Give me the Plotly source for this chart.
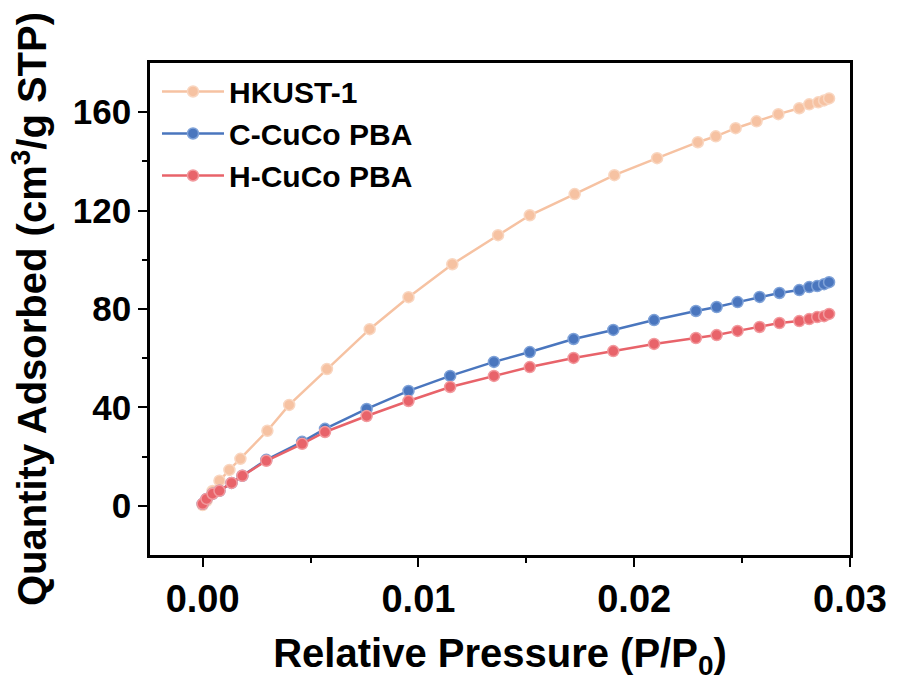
import plotly.graph_objects as go

# Relative pressure (P/P0) sampling for the two PBA samples
x_pba = [0.0000, 0.00018, 0.00046, 0.00078, 0.00134, 0.00184, 0.00295, 0.00461,
         0.00567, 0.00760, 0.00954, 0.01147, 0.01350, 0.01516, 0.01719, 0.01903,
         0.02092, 0.02286, 0.02382, 0.02479, 0.02581, 0.02673, 0.02765, 0.02811,
         0.02848, 0.02880, 0.02903]
c_cuco = [0.8, 2.8, 4.9, 6.1, 9.3, 12.2, 18.7, 26.0, 31.3, 39.4, 46.7, 52.8, 58.5,
          62.5, 67.8, 71.5, 75.5, 79.2, 80.8, 82.8, 84.9, 86.5, 87.7, 88.9, 89.3,
          90.1, 90.9]
h_cuco = [0.8, 2.8, 4.9, 6.1, 9.3, 12.2, 18.3, 25.2, 30.0, 36.5, 42.6, 48.3, 52.8,
          56.4, 60.1, 62.9, 65.8, 68.2, 69.4, 71.1, 72.7, 74.3, 75.1, 75.9, 76.7,
          77.1, 78.0]

x_hk = [0.0000, 0.00018, 0.00046, 0.00078, 0.00124, 0.00175, 0.00300, 0.00401,
        0.00576, 0.00774, 0.00954, 0.01157, 0.01369, 0.01516, 0.01724, 0.01908,
        0.02106, 0.02295, 0.02378, 0.02470, 0.02567, 0.02668, 0.02765, 0.02811,
        0.02853, 0.02880, 0.02903]
hkust = [0.3, 2.0, 6.0, 10.2, 14.6, 19.1, 30.5, 41.0, 55.6, 71.8, 84.8, 98.2,
         110.0, 118.1, 126.7, 134.4, 141.3, 147.8, 150.2, 153.5, 156.3, 159.2,
         161.6, 163.2, 164.0, 164.8, 165.6]

x_ticks = [0.0, 0.01, 0.02, 0.03]
x_ticktext = ["0.00", "0.01", "0.02", "0.03"]
y_ticks = [0, 40, 80, 120, 160]

series = [
    ("HKUST-1", x_hk, hkust, "#F6C2A2", "#F9D6C0"),
    ("C-CuCo PBA", x_pba, c_cuco, "#4A76BE", "#7FA2D8"),
    ("H-CuCo PBA", x_pba, h_cuco, "#E8636A", "#F29A9E"),
]

fig = go.Figure()
for name, xs, ys, col, edge in series:
    fig.add_trace(go.Scatter(
        x=xs, y=ys, name=name, mode="lines+markers",
        line=dict(color=col, width=2.5),
        marker=dict(symbol="circle", size=11, color=col,
                    line=dict(color=edge, width=1.5)),
    ))

font_family = "Liberation Sans, Arial, sans-serif"

fig.update_layout(
    width=899, height=682,
    margin=dict(l=150, r=44, t=63, b=127),
    paper_bgcolor="white", plot_bgcolor="white",
    font=dict(family=font_family, color="black"),
    showlegend=True,
    legend=dict(x=0.01, y=0.995, xanchor="left", yanchor="top",
                bgcolor="rgba(0,0,0,0)", borderwidth=0,
                font=dict(size=30, weight="bold", family=font_family),
                itemwidth=62, tracegroupgap=0),
)

fig.update_xaxes(
    range=[-0.00244, 0.0300],
    tickvals=x_ticks, ticktext=x_ticktext,
    ticks="outside", ticklen=9, tickwidth=2, tickcolor="black",
    minor=dict(ticks="outside", ticklen=5, tickwidth=2, tickcolor="black",
               tickvals=[0.005, 0.015, 0.025]),
    showline=True, linewidth=2.5, linecolor="black", mirror=True,
    showgrid=False, zeroline=False,
    tickfont=dict(size=38, weight="bold", family=font_family),
    title=dict(text="Relative Pressure (P/P<sub>0</sub>)",
               font=dict(size=40, weight="bold", family=font_family), standoff=20),
)
fig.update_yaxes(
    range=[-20, 180],
    tickvals=y_ticks,
    ticks="outside", ticklen=9, tickwidth=2, tickcolor="black",
    minor=dict(ticks="outside", ticklen=5, tickwidth=2, tickcolor="black",
               tickvals=[20, 60, 100, 140]),
    showline=True, linewidth=2.5, linecolor="black", mirror=True,
    showgrid=False, zeroline=False,
    tickfont=dict(size=35, weight="bold", family=font_family),
    title=dict(text="Quantity Adsorbed (cm<sup>3</sup>/g STP)",
               font=dict(size=40, weight="bold", family=font_family), standoff=14),
)

fig.write_html("out.html")
